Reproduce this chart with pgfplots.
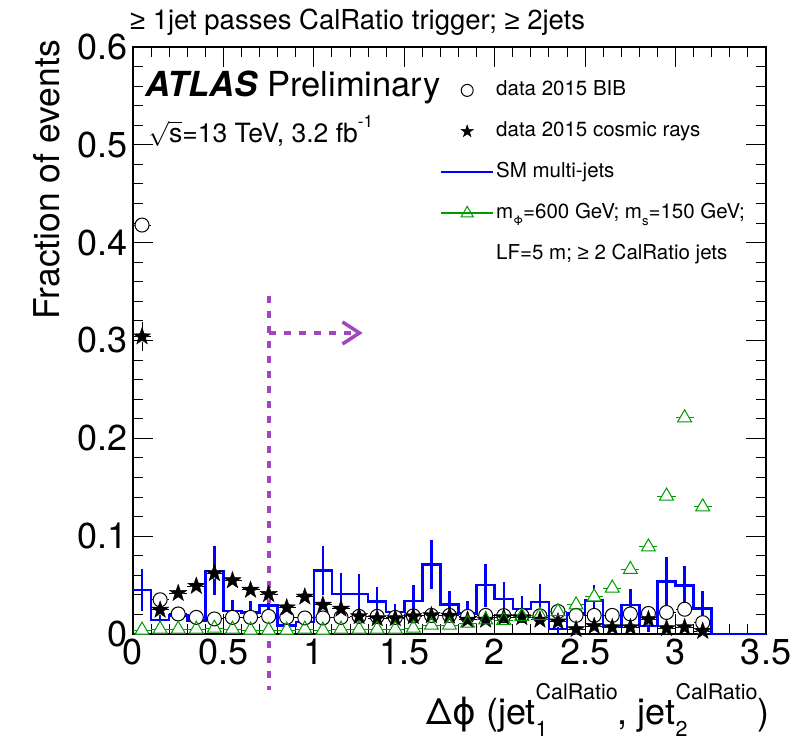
\documentclass[border=0pt]{standalone}
\usepackage{fontspec}
\setmainfont{TeX Gyre Heros}
\newfontfamily\libsans{Liberation Sans}
\newfontfamily\dejavu{DejaVu Sans}
\usepackage{pgfplots}
\pgfplotsset{compat=1.18}
\usepackage{pgfplotstable}
\usetikzlibrary{arrows.meta}
\definecolor{sigGreen}{RGB}{0,153,0}
\definecolor{cutPurple}{RGB}{160,70,190}
\newcommand{\GE}{{\libsans ≥}}
\newcommand{\jet}[1]{jet\rlap{\raisebox{-0.32em}{\fontsize{21.5}{21.5}\selectfont #1}}\raisebox{0.72em}{\fontsize{21.5}{21.5}\selectfont CalRatio}}

\pgfdeclareplotmark{fstar}{%
  \pgfpathmoveto{\pgfpointpolar{90}{\pgfplotmarksize}}%
  \pgfpathlineto{\pgfpointpolar{126}{0.40\pgfplotmarksize}}%
  \pgfpathlineto{\pgfpointpolar{162}{\pgfplotmarksize}}%
  \pgfpathlineto{\pgfpointpolar{198}{0.40\pgfplotmarksize}}%
  \pgfpathlineto{\pgfpointpolar{234}{\pgfplotmarksize}}%
  \pgfpathlineto{\pgfpointpolar{270}{0.40\pgfplotmarksize}}%
  \pgfpathlineto{\pgfpointpolar{306}{\pgfplotmarksize}}%
  \pgfpathlineto{\pgfpointpolar{342}{0.40\pgfplotmarksize}}%
  \pgfpathlineto{\pgfpointpolar{18}{\pgfplotmarksize}}%
  \pgfpathlineto{\pgfpointpolar{54}{0.40\pgfplotmarksize}}%
  \pgfpathclose
  \pgfusepathqfillstroke
}

% data 2015 BIB
\pgfplotstableread{
x y ey
0.05 0.418 0.004
0.15 0.035 0.002
0.25 0.0205 0.002
0.35 0.017 0.002
0.45 0.0154 0.002
0.55 0.017 0.002
0.65 0.017 0.002
0.75 0.018 0.002
0.85 0.017 0.002
0.95 0.0164 0.002
1.05 0.0164 0.002
1.15 0.017 0.002
1.25 0.018 0.002
1.35 0.018 0.002
1.45 0.017 0.002
1.55 0.0185 0.002
1.65 0.019 0.002
1.75 0.019 0.002
1.85 0.018 0.002
1.95 0.019 0.002
2.05 0.0188 0.002
2.15 0.019 0.002
2.25 0.0185 0.002
2.35 0.023 0.002
2.45 0.019 0.002
2.55 0.019 0.002
2.65 0.019 0.002
2.75 0.0205 0.002
2.85 0.021 0.002
2.95 0.022 0.002
3.05 0.0253 0.002
3.15 0.0116 0.002
}\bib

% data 2015 cosmic rays
\pgfplotstableread{
x y ey
0.05 0.304 0.015
0.15 0.0246 0.004
0.25 0.0417 0.004
0.35 0.049 0.004
0.45 0.062 0.005
0.55 0.0547 0.005
0.65 0.045 0.004
0.75 0.0407 0.004
0.85 0.027 0.004
0.95 0.038 0.004
1.05 0.0297 0.004
1.15 0.0256 0.004
1.25 0.018 0.003
1.35 0.016 0.003
1.45 0.016 0.003
1.55 0.018 0.003
1.65 0.019 0.003
1.75 0.0185 0.003
1.85 0.0144 0.003
1.95 0.0144 0.003
2.05 0.017 0.003
2.15 0.017 0.003
2.25 0.0144 0.003
2.35 0.0126 0.003
2.45 0.0048 0.002
2.55 0.008 0.002
2.65 0.0068 0.002
2.75 0.0068 0.002
2.85 0.015 0.003
2.95 0.0058 0.002
3.05 0.0068 0.002
3.15 0.003 0.002
}\cosmic

% signal
\pgfplotstableread{
x y ey
0.05 0.004 0.002
0.15 0.005 0.002
0.25 0.005 0.002
0.35 0.005 0.002
0.45 0.006 0.002
0.55 0.005 0.002
0.65 0.004 0.002
0.75 0.004 0.002
0.85 0.004 0.002
0.95 0.005 0.002
1.05 0.004 0.002
1.15 0.005 0.002
1.25 0.005 0.002
1.35 0.005 0.002
1.45 0.005 0.002
1.55 0.006 0.002
1.65 0.009 0.002
1.75 0.009 0.002
1.85 0.011 0.002
1.95 0.0144 0.002
2.05 0.014 0.002
2.15 0.018 0.002
2.25 0.019 0.002
2.35 0.023 0.002
2.45 0.0297 0.002
2.55 0.038 0.002
2.65 0.047 0.002
2.75 0.066 0.002
2.85 0.089 0.002
2.95 0.141 0.002
3.05 0.221 0.002
3.15 0.130 0.002
}\sig

% SM multi-jets histogram (left bin edges)
\pgfplotstableread{
x y
0.0 0.045
0.1 0.0144
0.2 0.019
0.3 0.014
0.4 0.0646
0.5 0.0236
0.6 0.022
0.7 0.029
0.8 0.0085
0.9 0.0123
1.0 0.065
1.1 0.041
1.2 0.041
1.3 0.033
1.4 0.0226
1.5 0.0335
1.6 0.0708
1.7 0.030
1.8 0.0212
1.9 0.050
2.0 0.036
2.1 0.0256
2.2 0.0325
2.3 0.005
2.4 0.021
2.5 0.034
2.6 0.0075
2.7 0.0297
2.8 0.008
2.9 0.0537
3.0 0.0496
3.1 0.0263
3.2 0.0
3.5 0.0
}\smhist

% SM multi-jets errors (bin centres)
\pgfplotstableread{
x y ey
0.05 0.045 0.021
0.15 0.0144 0.006
0.25 0.019 0.006
0.35 0.014 0.006
0.45 0.0646 0.025
0.55 0.0236 0.011
0.65 0.022 0.012
0.75 0.029 0.014
0.85 0.0085 0.004
0.95 0.0123 0.005
1.05 0.065 0.025
1.15 0.041 0.021
1.25 0.041 0.020
1.35 0.033 0.015
1.45 0.0226 0.008
1.55 0.0335 0.017
1.65 0.0708 0.025
1.75 0.030 0.014
1.85 0.0212 0.013
1.95 0.050 0.022
2.05 0.036 0.017
2.15 0.0256 0.013
2.25 0.0325 0.019
2.35 0.005 0.004
2.45 0.021 0.008
2.55 0.034 0.016
2.65 0.0075 0.004
2.75 0.0297 0.016
2.85 0.008 0.006
2.95 0.0537 0.025
3.05 0.0496 0.020
3.15 0.0263 0.018
}\smerr

\begin{document}
\begin{tikzpicture}
\begin{axis}[
  scale only axis, width=633pt, height=587pt,
  xmin=0, xmax=3.5, ymin=0, ymax=0.6,
  clip=false,
  axis line style={line width=1.2pt},
  tick align=inside, xtick pos=both, ytick pos=both,
  major tick length=20pt, minor tick length=10pt,
  every tick/.style={black, line width=1pt},
  xtick={0,0.5,1,1.5,2,2.5,3,3.5},
  ytick={0,0.1,0.2,0.3,0.4,0.5,0.6},
  minor x tick num=4, minor y tick num=4,
  /pgf/number format/assume math mode=true,
  xticklabel style={font=\fontsize{36}{36}\selectfont, /pgf/number format/fixed, inner sep=5pt},
  yticklabel style={font=\fontsize{36}{36}\selectfont, /pgf/number format/fixed, inner sep=5pt},
  xlabel={Δ{\dejavu ϕ} (\jet{1}, \jet{2})},
  xlabel style={at={(rel axis cs:1.006,-0.155)}, anchor=base east, font=\fontsize{36}{36}\selectfont, inner sep=0pt},
  ylabel={Fraction of events},
  ylabel style={at={(rel axis cs:-0.1153,1.012)}, anchor=south east, font=\fontsize{35.5}{35.5}\selectfont, inner sep=0pt},
  legend style={at={(rel axis cs:0.485,0.946)}, anchor=north west, draw=none, fill=none,
    font=\fontsize{20.5}{24}\selectfont, inner sep=0pt, row sep=18pt,
    nodes={inner sep=2pt, text height=15pt, text depth=4pt},
    /tikz/every even column/.append style={column sep=6pt}},
  legend cell align=left,
  legend image code/.code={\draw[mark repeat=2,mark phase=2,#1] plot coordinates {(0pt,0pt) (26pt,0pt) (52pt,0pt)};},
]
% legend images
\addlegendimage{only marks, mark=o, mark size=6pt, mark options={black, line width=1pt}}
\addlegendentry{data 2015 BIB}
\addlegendimage{only marks, mark=fstar, mark size=6.5pt, mark options={black, fill=black}}
\addlegendentry{data 2015 cosmic rays}
\addlegendimage{blue, line width=2pt}
\addlegendentry{SM multi-jets}
\addlegendimage{sigGreen, line width=2pt, mark=triangle, mark size=7pt, mark options={line width=1pt, fill=white}}
\addlegendentry{m\raisebox{-0.3em}{\fontsize{13}{13}\selectfont Φ}=600 GeV; m\raisebox{-0.3em}{\fontsize{13}{13}\selectfont s}=150 GeV;}
\addlegendimage{empty legend}
\addlegendentry{LF=5 m; \GE{} 2 CalRatio jets}

% pass 1: error bars with masking marks
\addplot[forget plot, only marks, mark=*, mark size=7pt, mark options={fill=white, draw=white},
  error bars/.cd, x dir=both, x fixed=0.05, y dir=both, y explicit, error mark=none,
  error bar style={draw=black, line width=1pt}] table[x=x, y=y, y error=ey]{\bib};
\addplot[forget plot, only marks, mark=*, mark size=5pt, mark options={fill=white, draw=white},
  error bars/.cd, x dir=both, x fixed=0.05, y dir=both, y explicit, error mark=none,
  error bar style={draw=black, line width=1pt}] table[x=x, y=y, y error=ey]{\cosmic};
\addplot[forget plot, only marks, mark=triangle*, mark size=8pt, mark options={fill=white, draw=white},
  error bars/.cd, x dir=both, x fixed=0.05, y dir=both, y explicit, error mark=none,
  error bar style={draw=sigGreen, line width=1pt}] table[x=x, y=y, y error=ey]{\sig};

% pass 2: markers
\addplot[forget plot, only marks, mark=o, mark size=7pt, mark options={black, line width=1pt}] table[x=x, y=y]{\bib};
\addplot[forget plot, only marks, mark=fstar, mark size=9pt, mark options={black, fill=black, line width=0.4pt}] table[x=x, y=y]{\cosmic};
\addplot[forget plot, only marks, mark=triangle, mark size=8pt, mark options={sigGreen, line width=1pt}] table[x=x, y=y]{\sig};

% SM multi-jets
\addplot[forget plot, blue, line width=2.5pt, const plot mark left, mark=none] table[x=x, y=y]{\smhist};
\addplot[forget plot, draw=none, mark=none,
  error bars/.cd, y dir=both, y explicit, error mark=none,
  error bar style={draw=blue, line width=2.5pt}] table[x=x, y=y, y error=ey]{\smerr};

% cut annotation
\draw[cutPurple, line width=3.8pt, dash pattern=on 7pt off 8pt] (axis cs:0.75,0.345) -- (axis cs:0.75,-0.057);
\draw[cutPurple, line width=3.8pt, dash pattern=on 7pt off 8pt, -{Straight Barb[length=17pt, width=22pt, line width=3.5pt]}] (axis cs:0.75,0.3077) -- (axis cs:1.27,0.3077);

% texts
\node[anchor=base west, font=\fontsize{27.5}{27.5}\selectfont, inner sep=0pt] at (rel axis cs:-0.005,1.029) {\GE{} 1jet passes CalRatio trigger; \GE{} 2jets};
\node[anchor=base west, font=\fontsize{34.5}{34.5}\selectfont, inner sep=0pt] at (rel axis cs:0.019,0.915) {\textbf{\textit{ATLAS}} Preliminary};
\node[anchor=base west, font=\fontsize{26.5}{26.5}\selectfont, inner sep=0pt] at (rel axis cs:0.024,0.838) {$\sqrt{\mbox{s}}$=13 TeV, 3.2 fb\raisebox{0.55em}{\fontsize{17}{17}\selectfont -1}};
\end{axis}
\pgfresetboundingbox
\path[use as bounding box] (-133pt,-105pt) rectangle (677pt,634pt);
\end{tikzpicture}
\end{document}
